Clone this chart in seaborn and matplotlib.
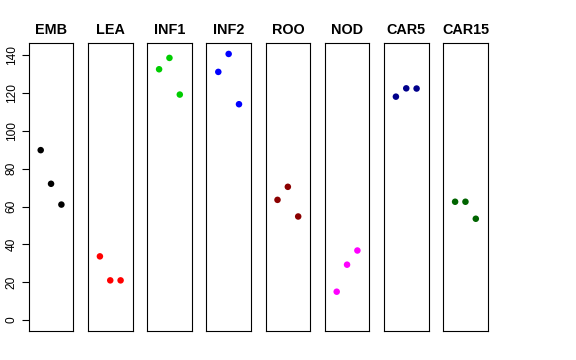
import matplotlib
matplotlib.use("Agg")
import matplotlib.pyplot as plt
import seaborn as sns
import pandas as pd

categories = ["EMB", "LEA", "INF1", "INF2", "ROO", "NOD", "CAR5", "CAR15"]
replicates = [1, 2, 3]
emb = [89.9, 72.1, 61.1]
lea = [33.7, 21.0, 21.0]
inf1 = [132.7, 138.7, 119.3]
inf2 = [131.3, 140.8, 114.2]
roo = [63.6, 70.5, 54.8]
nod = [15.0, 29.3, 36.8]
car5 = [118.2, 122.6, 122.5]
car15 = [62.6, 62.6, 53.6]
series = [emb, lea, inf1, inf2, roo, nod, car5, car15]
colors = ["#000000", "#FF0000", "#00CD00", "#0000FF", "#8B0000", "#FF00FF", "#00008B", "#006400"]
yticks = [0, 20, 40, 60, 80, 100, 120, 140]

sns.set_style("white")
plt.rcParams["font.family"] = ["Liberation Sans", "DejaVu Sans"]
plt.rcParams["text.color"] = "black"
plt.rcParams["axes.labelcolor"] = "black"
plt.rcParams["xtick.color"] = "black"
plt.rcParams["ytick.color"] = "black"

rows = []
for cat, vals in zip(categories, series):
    for r, v in zip(replicates, vals):
        rows.append({"tissue": cat, "rep": r, "value": v})
df = pd.DataFrame(rows)

W, H = 576, 360
fig = plt.figure(figsize=(W / 100, H / 100), dpi=100)
ymax = df["value"].max()
ylim = (-0.04 * ymax, ymax * 1.04)

left0, period, pw = 28.7, 59.2, 44.7
top, bottom = 43.3, 330.7
for i, (cat, col) in enumerate(zip(categories, colors)):
    ax = fig.add_axes([(left0 + i * period) / W, 1 - bottom / H, pw / W, (bottom - top) / H])
    sub = df[df["tissue"] == cat]
    sns.scatterplot(data=sub, x="rep", y="value", ax=ax, color=col, s=22,
                    edgecolor="none", legend=False)
    ax.set_xlim(-0.16, 4.16)
    ax.set_ylim(*ylim)
    ax.set_xlabel("")
    ax.set_ylabel("")
    ax.set_xticks([])
    for sp in ax.spines.values():
        sp.set_visible(True)
        sp.set_color("black")
        sp.set_linewidth(0.8)
    ax.set_title(cat, fontsize=10.4, fontweight="bold", pad=7, color="black")
    if i == 0:
        ax.set_yticks(yticks)
        ax.set_yticklabels([str(t) for t in yticks], rotation=90, va="center", fontsize=8.6)
        ax.tick_params(axis="y", left=True, length=5, width=0.8, color="black",
                       labelcolor="black", pad=3)
    else:
        ax.set_yticks([])

fig.savefig("out.png", dpi=100)
